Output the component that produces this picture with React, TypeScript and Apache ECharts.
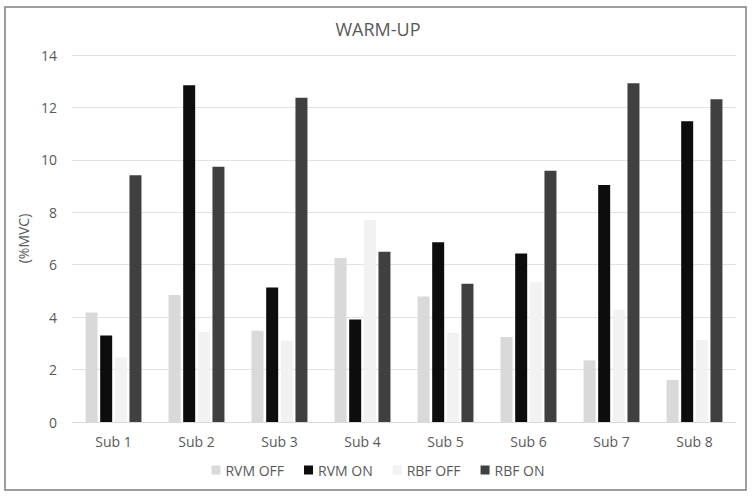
import React, { useEffect, useRef } from "react";
import * as echarts from "echarts";

const categories = ["Sub 1", "Sub 2", "Sub 3", "Sub 4", "Sub 5", "Sub 6", "Sub 7", "Sub 8"];
const seriesNames = ["RVM OFF", "RVM ON", "RBF OFF", "RBF ON"];
const rvmOff = [4.18, 4.84, 3.48, 6.26, 4.79, 3.24, 2.35, 1.6];
const rvmOn = [3.3, 12.85, 5.13, 3.91, 6.86, 6.43, 9.04, 11.47];
const rbfOff = [2.46, 3.44, 3.1, 7.72, 3.4, 5.34, 4.28, 3.14];
const rbfOn = [9.41, 9.74, 12.37, 6.49, 5.27, 9.58, 12.92, 12.31];
const colors = ["#d9d9d9", "#0d0d0d", "#f2f2f2", "#404040"];

export default function App() {
  const ref = useRef<HTMLDivElement>(null);
  useEffect(() => {
    document.body.style.margin = "0";
    const chart = echarts.init(ref.current!, null, { renderer: "svg" });
    const values = [rvmOff, rvmOn, rbfOff, rbfOn];
    chart.setOption({
      animation: false,
      backgroundColor: "#ffffff",
      textStyle: { fontFamily: "Open Sans" },
      title: {
        text: "WARM-UP",
        left: "center",
        top: 15,
        textStyle: { fontSize: 18, fontWeight: "normal", color: "#595959", fontFamily: "Open Sans" },
      },
      graphic: [
        {
          type: "rect",
          shape: { x: 5, y: 7, width: 741, height: 483 },
          style: { fill: "none", stroke: "#7f7f7f", lineWidth: 1.5 },
          silent: true,
        },
      ],
      legend: {
        data: seriesNames,
        bottom: 15,
        left: "center",
        itemWidth: 9,
        itemHeight: 9,
        itemGap: 20,
        icon: "rect",
        textStyle: { fontSize: 14, color: "#595959" },
      },
      grid: { left: 72, right: 20, top: 55, bottom: 75, containLabel: false },
      xAxis: {
        type: "category",
        data: categories,
        axisLine: { show: true, lineStyle: { color: "#d9d9d9" } },
        axisTick: { show: false },
        axisLabel: { fontSize: 14, color: "#595959", margin: 12 },
      },
      yAxis: {
        type: "value",
        min: 0,
        max: 14,
        interval: 2,
        name: "(%MVC)",
        nameLocation: "middle",
        nameGap: 42,
        nameTextStyle: { fontSize: 14, color: "#595959" },
        axisLine: { show: false },
        axisTick: { show: false },
        axisLabel: { fontSize: 14, color: "#595959", margin: 15 },
        splitLine: { lineStyle: { color: "#e3e3e3" } },
      },
      series: seriesNames.map((name, i) => ({
        name,
        type: "bar",
        data: values[i],
        barWidth: 12,
        barGap: "22%",
        itemStyle: { color: colors[i] },
      })),
    });
    return () => chart.dispose();
  }, []);
  return <div ref={ref} style={{ width: 756, height: 497 }} />;
}
